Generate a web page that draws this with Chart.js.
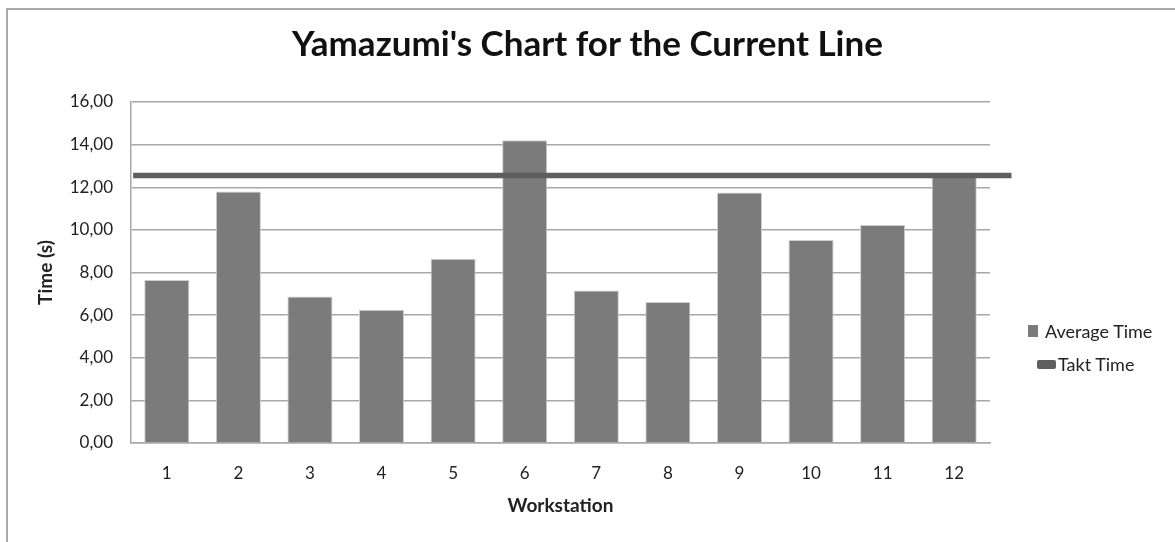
<!DOCTYPE html>
<html>
<head>
<meta charset="utf-8">
<script src="https://cdn.jsdelivr.net/npm/chart.js@4.4.1/dist/chart.umd.min.js"></script>
<style>
  html, body { margin: 0; padding: 0; background: #fff; }
  #wrap { position: relative; width: 1175px; height: 542px; overflow: hidden; }
  #frame { position: absolute; left: 6px; top: 8px; width: 1400px; height: 800px;
           border-top: 2px solid #a9a9a9; border-left: 2px solid #a9a9a9; }
  canvas { position: absolute; left: 0; top: 0; }
  .leg { position: absolute; font: 18px Lato, sans-serif; color: #222; white-space: nowrap; line-height: 22px; }
  .leg span { display: inline-block; vertical-align: middle; }
</style>
</head>
<body>
<div id="wrap">
  <div id="frame"></div>
  <canvas id="yamazumi" width="1175" height="542"></canvas>
  <div class="leg" style="left:1028px; top:318px;">
    <span style="width:10px;height:12px;background:#7b7b7b;margin-right:7px;"></span><span>Average Time</span>
  </div>
  <div class="leg" style="left:1037px; top:351px;">
    <span style="width:19px;height:9px;background:#5e5e5e;border-radius:2px;margin-right:2px;"></span><span>Takt Time</span>
  </div>
</div>
<script>
// Workstations on the line
const workstations = ['1', '2', '3', '4', '5', '6', '7', '8', '9', '10', '11', '12'];
// Average cycle time per workstation (s)
const averageTime = [7.65, 11.8, 6.87, 6.25, 8.65, 14.2, 7.15, 6.62, 11.75, 9.53, 10.23, 12.6];
// Takt time (s) and the span of the takt line in workstation units
const taktTime = 12.55;
const taktSpan = [0.53, 12.8];
// Y axis ticks
const yTicks = [0, 2, 4, 6, 8, 10, 12, 14, 16];

const ctx = document.getElementById('yamazumi').getContext('2d');

const chart = new Chart(ctx, {
    data: {
        labels: workstations,
        datasets: [{
            type: 'bar',
            label: 'Average Time',
            data: averageTime,
            backgroundColor: '#7b7b7b',
            borderColor: '#cfcfcf',
            borderWidth: 1,
            grouped: false,
            barPercentage: 0.63,
            categoryPercentage: 1,
            order: 2
        }, {
            type: 'line',
            label: 'Takt Time',
            xAxisID: 'x2',
            data: taktSpan.map(x => ({ x: x, y: taktTime })),
            borderColor: '#5e5e5e',
            borderWidth: 5.5,
            pointRadius: 0,
            clip: false,
            order: 1
        }]
    },
    options: {
        responsive: false,
        animation: false,
        layout: { padding: { left: 0, right: 0, top: 0, bottom: 25 } },
        plugins: {
            legend: { display: false },
            tooltip: { enabled: false },
            title: {
                display: true,
                text: "Yamazumi's Chart for the Current Line",
                color: '#111',
                font: { family: 'Lato', size: 35, weight: 'bold' },
                padding: { top: 24, bottom: 36 }
            }
        },
        scales: {
            x: {
                type: 'category',
                grid: { display: false, drawTicks: false },
                border: { color: '#a8a8a8', width: 1.5 },
                ticks: { color: '#222', padding: 20, font: { family: 'Lato', size: 17 } },
                title: {
                    display: true, text: 'Workstation', color: '#222',
                    font: { family: 'Lato', size: 19, weight: 'bold' }, padding: { top: 0, bottom: 0 }
                },
                afterFit: axis => { axis.height = 74; }
            },
            x2: {
                type: 'linear',
                display: false,
                min: 0.5,
                max: 12.5
            },
            y: {
                min: yTicks[0],
                max: yTicks[yTicks.length - 1],
                afterBuildTicks: axis => { axis.ticks = yTicks.map(v => ({ value: v })); },
                afterFit: axis => { axis.width = 131; },
                grid: { color: '#a8a8a8', lineWidth: 1.5, drawTicks: false },
                border: { color: '#a8a8a8', width: 1.5 },
                ticks: {
                    color: '#222', padding: 18, font: { family: 'Lato', size: 17 },
                    callback: v => v.toFixed(2).replace('.', ',')
                },
                title: {
                    display: true, text: 'Time (s)', color: '#222',
                    font: { family: 'Lato', size: 19, weight: 'bold' }, padding: { top: 34, bottom: 0 }
                }
            },
            // empty right-hand band that keeps room for the legend
            y2: {
                position: 'right',
                min: 0,
                max: 1,
                grid: { display: false, drawTicks: false },
                border: { display: false },
                ticks: { display: false },
                afterFit: axis => { axis.width = 185; }
            }
        }
    }
});
</script>
</body>
</html>
